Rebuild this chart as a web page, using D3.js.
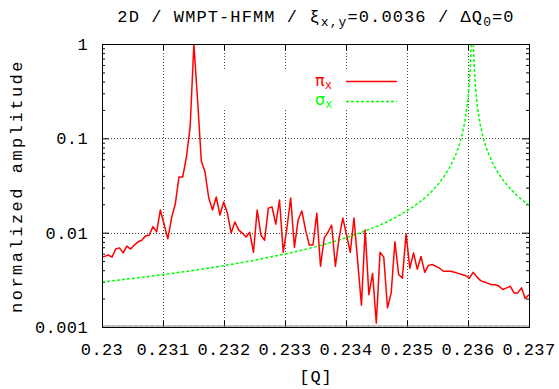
<!DOCTYPE html>
<html>
<head>
<meta charset="utf-8">
<script src="https://cdn.jsdelivr.net/npm/d3@7/dist/d3.min.js"></script>
<style>
  body { margin: 0; background: #fff; }
  svg { display: block; }
  text { font-family: "Liberation Mono", "DejaVu Sans Mono", monospace; fill: #000; }
</style>
</head>
<body>
<svg id="chart" width="559" height="389"></svg>
<script>
// tune values of the red spectrum (FFT bins)
const piQ = [
  0.229980, 0.230042, 0.230103, 0.230164, 0.230225, 0.230286, 0.230347, 0.230408, 0.230469, 0.230530,
  0.230591, 0.230652, 0.230713, 0.230774, 0.230835, 0.230896, 0.230957, 0.231018, 0.231079, 0.231140,
  0.231201, 0.231262, 0.231323, 0.231384, 0.231445, 0.231506, 0.231567, 0.231628, 0.231689, 0.231750,
  0.231812, 0.231873, 0.231934, 0.231995, 0.232056, 0.232117, 0.232178, 0.232239, 0.232300, 0.232361,
  0.232422, 0.232483, 0.232544, 0.232605, 0.232666, 0.232727, 0.232788, 0.232849, 0.232910, 0.232971,
  0.233032, 0.233093, 0.233154, 0.233215, 0.233276, 0.233337, 0.233398, 0.233459, 0.233521, 0.233582,
  0.233643, 0.233704, 0.233765, 0.233826, 0.233887, 0.233948, 0.234009, 0.234070, 0.234131, 0.234192,
  0.234253, 0.234314, 0.234375, 0.234436, 0.234497, 0.234558, 0.234619, 0.234680, 0.234741, 0.234802,
  0.234863, 0.234924, 0.234985, 0.235046, 0.235107, 0.235168, 0.235229, 0.235291, 0.235352, 0.235413,
  0.235474, 0.235535, 0.235596, 0.235657, 0.235718, 0.235779, 0.235840, 0.235901, 0.235962, 0.236023,
  0.236084, 0.236145, 0.236206, 0.236267, 0.236328, 0.236389, 0.236450, 0.236511, 0.236572, 0.236633,
  0.236694, 0.236755, 0.236816, 0.236877, 0.236938, 0.236999
]
const piAmp = [
  0.0055, 0.0056, 0.0058, 0.0055, 0.0067, 0.0069, 0.0061, 0.0072, 0.0067, 0.0074,
  0.0080, 0.0083, 0.0092, 0.0094, 0.0116, 0.0102, 0.0174, 0.0123, 0.0086, 0.0143,
  0.0201, 0.0389, 0.0389, 0.0634, 0.132, 1.0, 0.255, 0.0574, 0.0439, 0.0233,
  0.0174, 0.0239, 0.0154, 0.0211, 0.0161, 0.0099, 0.0130, 0.0107, 0.0099, 0.0090,
  0.0101, 0.0062, 0.0174, 0.0094, 0.0083, 0.0182, 0.0187, 0.0123, 0.0222, 0.0062,
  0.0112, 0.0233, 0.0070, 0.0136, 0.0170, 0.0107, 0.0074, 0.0074, 0.0161, 0.0044,
  0.0088, 0.0101, 0.0120, 0.0044, 0.0088, 0.0143, 0.0094, 0.0062, 0.0143, 0.0049,
  0.0017, 0.0107, 0.0022, 0.0037, 0.0011, 0.0062, 0.0055, 0.0016, 0.0023, 0.0080,
  0.0036, 0.0033, 0.0097, 0.0042, 0.0061, 0.0041, 0.0056, 0.0038, 0.0045, 0.0046,
  0.0044, 0.0042, 0.0039, 0.0039, 0.0039, 0.0038, 0.0037, 0.0036, 0.0035, 0.0033,
  0.0038, 0.0034, 0.0031, 0.0030, 0.0029, 0.0028, 0.0028, 0.0027, 0.0025, 0.0026,
  0.0027, 0.0023, 0.0023, 0.0026, 0.0020, 0.0022
]

// green resonance curve
const sigmaQ = [
  0.2300, 0.2305, 0.2310, 0.2315, 0.2320, 0.2325, 0.2330, 0.2333, 0.2336, 0.2339,
  0.2342, 0.2345, 0.2347, 0.2349, 0.2351, 0.2352, 0.2353, 0.2354, 0.2355, 0.2356,
  0.2357, 0.2358, 0.23585, 0.2359, 0.23595, 0.2360, 0.23602, 0.23604, 0.23605, 0.23607,
  0.23609, 0.2361, 0.23612, 0.23615, 0.2362, 0.23625, 0.2363, 0.2364, 0.2365, 0.2366,
  0.2367, 0.2368, 0.2369, 0.2370
]
const sigmaAmp = [
  0.0030, 0.00327, 0.00359, 0.00398, 0.00447, 0.0051, 0.00593, 0.00657, 0.00737, 0.0084,
  0.0098, 0.0116, 0.0133, 0.0156, 0.0188, 0.0209, 0.0236, 0.0271, 0.0319, 0.0387,
  0.0492, 0.0674, 0.0828, 0.107, 0.152, 0.26, 0.364, 0.607, 0.91, 2.0,
  0.91, 0.607, 0.364, 0.228, 0.14, 0.101, 0.079, 0.0552, 0.0423, 0.0343,
  0.0289, 0.0249, 0.0219, 0.0196
]

const xTicks = [0.23, 0.231, 0.232, 0.233, 0.234, 0.235, 0.236, 0.237]
const xTickLabels = ['0.23', '0.231', '0.232', '0.233', '0.234', '0.235', '0.236', '0.237']
const yTicks = [0.001, 0.01, 0.1, 1]
const yTickLabels = ['0.001', '0.01', '0.1', '1']

const pLeft = 102, pRight = 529, pTop = 44, pBottom = 327
const svg = d3.select('#chart')
svg.append('rect').attr('width', 559).attr('height', 389).attr('fill', '#fff')

const x = d3.scaleLinear().domain([0.23, 0.237]).range([pLeft, pRight])
const y = d3.scaleLog().domain([0.001, 1]).range([pBottom, pTop])

svg.append('clipPath').attr('id', 'clip')
  .append('rect').attr('x', pLeft).attr('y', pTop).attr('width', pRight - pLeft).attr('height', pBottom - pTop)

// grid
const grid = svg.append('g').attr('stroke', '#444').attr('stroke-width', 1).attr('stroke-dasharray', '1,2')
grid.selectAll('.gx').data(xTicks.slice(1, -1)).enter().append('line')
  .attr('x1', d => Math.round(x(d)) + 0.5).attr('x2', d => Math.round(x(d)) + 0.5)
  .attr('y1', pTop).attr('y2', pBottom)
grid.selectAll('.gy').data(yTicks.slice(1, -1)).enter().append('line')
  .attr('y1', d => Math.round(y(d)) + 0.5).attr('y2', d => Math.round(y(d)) + 0.5)
  .attr('x1', pLeft).attr('x2', pRight)

// opaque key box
svg.append('rect').attr('x', 214).attr('y', 69).attr('width', 188).attr('height', 41).attr('fill', '#fff')

// axes with inward ticks
const xAxisB = d3.axisBottom(x).tickValues(xTicks).tickSize(-6).tickFormat('')
const xAxisT = d3.axisTop(x).tickValues(xTicks).tickSize(-6).tickFormat('')
const minorY = []
for (const dec of [0.001, 0.01, 0.1]) for (const m of [2, 3, 4, 5, 6, 7, 8, 9]) minorY.push(dec * m)
const yAxisL = d3.axisLeft(y).tickValues(yTicks).tickSize(-7).tickFormat('')
const yAxisR = d3.axisRight(y).tickValues(yTicks).tickSize(-7).tickFormat('')
const yMinL = d3.axisLeft(y).tickValues(minorY).tickSize(-3).tickFormat('')
const yMinR = d3.axisRight(y).tickValues(minorY).tickSize(-3).tickFormat('')

function styleAxis(g) {
  g.select('.domain').remove()
  g.selectAll('line').attr('stroke', '#000').attr('stroke-width', 1)
}
svg.append('g').attr('transform', `translate(0,${pBottom})`).call(xAxisB).call(styleAxis)
svg.append('g').attr('transform', `translate(0,${pTop})`).call(xAxisT).call(styleAxis)
svg.append('g').attr('transform', `translate(${pLeft},0)`).call(yAxisL).call(styleAxis)
svg.append('g').attr('transform', `translate(${pRight},0)`).call(yAxisR).call(styleAxis)
svg.append('g').attr('transform', `translate(${pLeft},0)`).call(yMinL).call(styleAxis)
svg.append('g').attr('transform', `translate(${pRight},0)`).call(yMinR).call(styleAxis)

// fine minor ticks along the bottom edge
const fineX = d3.range(0, 351).map(i => 0.23 + i * 0.00002)
svg.append('g').attr('transform', `translate(0,${pBottom})`)
  .call(d3.axisBottom(x).tickValues(fineX).tickSize(-2).tickFormat(''))
  .call(g => { g.select('.domain').remove(); g.selectAll('line').attr('stroke', '#777').attr('stroke-width', 0.6) })

// tick labels
svg.append('g').selectAll('text').data(xTicks).enter().append('text')
  .attr('x', d => x(d)).attr('y', 355).attr('text-anchor', 'middle').attr('font-size', 17)
  .attr('letter-spacing', 0.4)
  .text((d, i) => xTickLabels[i])
svg.append('g').selectAll('text').data(yTicks).enter().append('text')
  .attr('x', 88).attr('y', d => y(d) + 6).attr('text-anchor', 'end').attr('font-size', 17)
  .attr('letter-spacing', 0.4)
  .text((d, i) => yTickLabels[i])

// data lines
const plot = svg.append('g').attr('clip-path', 'url(#clip)')
const line = d3.line().x(d => x(d[0])).y(d => y(d[1]))
plot.append('path').datum(sigmaQ.map((q, i) => [q, sigmaAmp[i]]))
  .attr('d', line).attr('fill', 'none').attr('stroke', '#00ff00').attr('stroke-width', 1.5)
  .attr('stroke-dasharray', '3,2')
plot.append('path').datum(piQ.map((q, i) => [q, piAmp[i]]))
  .attr('d', line).attr('fill', 'none').attr('stroke', '#ff0000').attr('stroke-width', 1.5)
  .attr('stroke-linejoin', 'round')

// frame
svg.append('rect').attr('x', pLeft + 0.5).attr('y', pTop + 0.5)
  .attr('width', pRight - pLeft).attr('height', pBottom - pTop)
  .attr('fill', 'none').attr('stroke', '#000').attr('stroke-width', 1)

// key
const key = [
  { sym: 'π', color: '#ff0000', ty: 86, ly: 81.5, dash: null },
  { sym: 'σ', color: '#00ff00', ty: 105, ly: 101.5, dash: '3,2' }
]
key.forEach(k => {
  const t = svg.append('text').attr('x', 315).attr('y', k.ty).style('fill', k.color)
  t.append('tspan').attr('font-family', 'DejaVu Sans').attr('font-size', 16).text(k.sym)
  t.append('tspan').attr('font-size', 12).attr('dy', 3).text('x')
  svg.append('line').attr('x1', 346).attr('x2', 397).attr('y1', k.ly).attr('y2', k.ly)
    .attr('stroke', k.color).attr('stroke-width', 1.5).attr('stroke-dasharray', k.dash)
})

// title
const title = svg.append('text').attr('x', 316).attr('y', 22).attr('text-anchor', 'middle')
  .attr('font-size', 17).attr('letter-spacing', 1.1)
title.append('tspan').text('2D / WMPT-HFMM / ξ')
title.append('tspan').attr('font-size', 13).attr('dy', 4).text('x,y')
title.append('tspan').attr('dy', -4).text('=0.0036 / ΔQ')
title.append('tspan').attr('font-size', 13).attr('dy', 4).text('0')
title.append('tspan').attr('dy', -4).text('=0')

// axis labels
svg.append('text').attr('x', 316).attr('y', 382).attr('text-anchor', 'middle').attr('font-size', 17)
  .attr('letter-spacing', 1).text('[Q]')
svg.append('text').attr('transform', 'translate(22,186) rotate(-90)').attr('text-anchor', 'middle')
  .attr('font-size', 17).attr('letter-spacing', 2.5).text('normalized amplitude')
</script>
</body>
</html>
